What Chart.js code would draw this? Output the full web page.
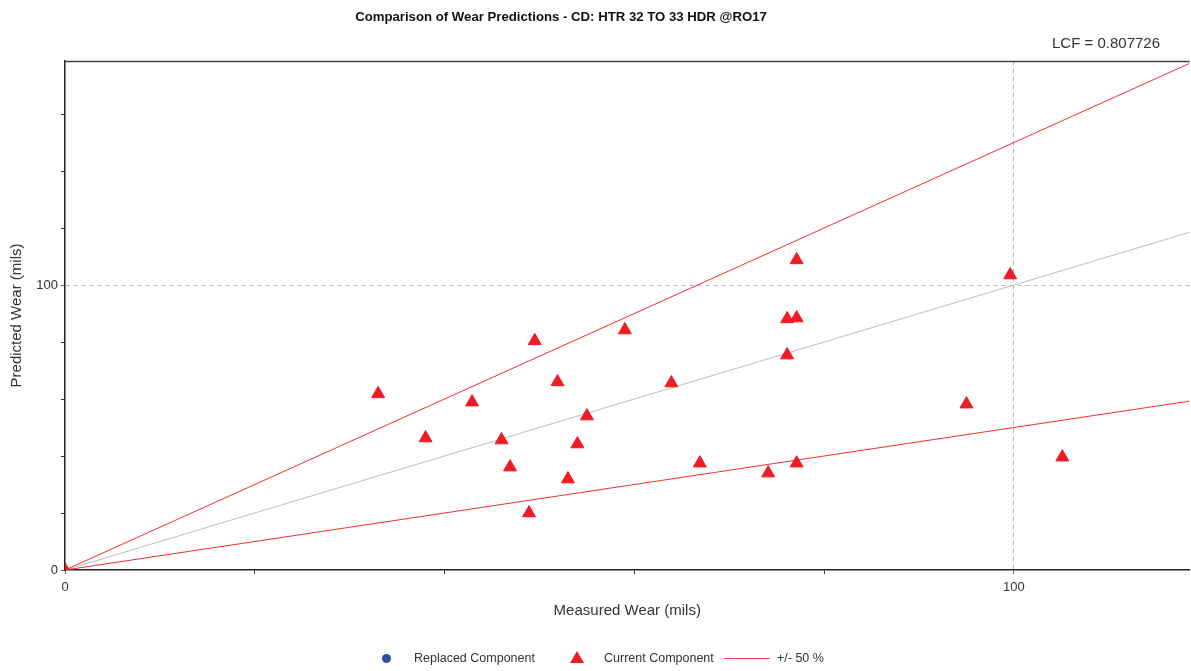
<!DOCTYPE html>
<html>
<head>
<meta charset="utf-8">
<script src="https://cdn.jsdelivr.net/npm/chart.js@4/dist/chart.umd.min.js"></script>
<style>
  html, body { margin: 0; padding: 0; background: #fff; overflow: hidden; }
  #wrap { position: relative; width: 1191px; height: 671px; overflow: hidden; font-family: "Liberation Sans", Arial, sans-serif; }
  canvas { position: absolute; left: 0; top: 0; }
  .txt { position: absolute; white-space: nowrap; color: #222; }
  #title { left: 561px; top: 9px; transform: translateX(-50%); font-weight: bold; font-size: 13.2px; color: #111; }
  #lcf { left: 1052px; top: 34px; font-size: 15px; color: #333; }
  .leg { position: absolute; top: 651px; font-size: 12.5px; color: #333; line-height: 14px; }
  .dot { position: absolute; width: 9px; height: 9px; border-radius: 50%; background: #2f4f9f; }
  .tri { position: absolute; width: 0; height: 0; border-left: 7px solid transparent; border-right: 7px solid transparent; border-bottom: 12px solid #ee1c24; }
  .ln { position: absolute; height: 1px; background: #f05050; }
</style>
</head>
<body>
<div id="wrap">
  <canvas id="c" width="1198" height="671"></canvas>
  <div class="txt" id="title">Comparison of Wear Predictions - CD: HTR 32 TO 33 HDR @RO17</div>
  <div class="txt" id="lcf">LCF = 0.807726</div>
  <div class="dot" style="left:382px; top:654px;"></div>
  <div class="leg" style="left:414px;">Replaced Component</div>
  <div class="tri" style="left:570px; top:651px;"></div>
  <div class="leg" style="left:604px;">Current Component</div>
  <div class="ln" style="left:724px; top:658px; width:46px;"></div>
  <div class="leg" style="left:777px;">+/- 50 %</div>
</div>
<script>
// ---- data ----
const measuredWear  = [0, 33.0, 38.0, 42.9, 46.0, 46.9, 48.9, 49.5, 51.9, 53.0, 54.0, 55.0, 59.0, 63.9, 66.9, 74.1, 76.1, 76.1, 77.1, 77.1, 77.1, 95.0, 99.6, 105.1];
const predictedWear = [0, 61.8, 46.3, 58.9, 45.6, 36.1, 20.0, 80.4, 66.0, 31.9, 44.2, 54.0, 84.2, 65.6, 37.5, 34.0, 75.4, 88.1, 88.4, 108.8, 37.5, 58.2, 103.5, 39.6];
const replacedX = [];
const replacedY = [];
const axisMaxX = 118.5;
const axisMaxY = 178.6;
const upperLineX = [0, 118.5];
const upperLineY = [0, 177.75];
const lowerLineX = [0, 118.5];
const lowerLineY = [0, 59.25];
const unityLineX = [0, 118.5];
const unityLineY = [0, 118.5];
const labelledTicks = [0, 100];

const pts = (xs, ys) => xs.map((x, i) => ({ x: x, y: ys[i] }));

const topBorder = {
  id: 'topBorder',
  afterDraw(chart) {
    const a = chart.chartArea, ctx = chart.ctx;
    ctx.save();
    ctx.strokeStyle = '#444';
    ctx.lineWidth = 1.5;
    ctx.beginPath();
    ctx.moveTo(a.left, a.top + 0.5);
    ctx.lineTo(a.right, a.top + 0.5);
    ctx.stroke();
    ctx.restore();
  }
};

const gridColor = (ctx) => (ctx.tick && ctx.tick.value === 100) ? '#b4b4b4' : 'rgba(0,0,0,0)';
const tickColor = (ctx) => (ctx.tick && (ctx.tick.value === 100 || ctx.tick.value === 0)) ? '#4060b0' : '#333';

new Chart(document.getElementById('c'), {
  type: 'scatter',
  data: {
    datasets: [
      { label: '1:1', type: 'line', data: pts(unityLineX, unityLineY), borderColor: '#bdbdbd', borderWidth: 1, pointRadius: 0, fill: false, order: 3 },
      { label: '+50 %', type: 'line', data: pts(upperLineX, upperLineY), borderColor: '#f03030', borderWidth: 1, pointRadius: 0, fill: false, order: 2 },
      { label: '-50 %', type: 'line', data: pts(lowerLineX, lowerLineY), borderColor: '#f03030', borderWidth: 1, pointRadius: 0, fill: false, order: 2 },
      { label: 'Replaced Component', data: pts(replacedX, replacedY), pointStyle: 'circle', pointRadius: 4, backgroundColor: '#2f4f9f', borderColor: '#2f4f9f', order: 1 },
      { label: 'Current Component', data: pts(measuredWear, predictedWear), pointStyle: 'triangle', pointRadius: 7.5, borderWidth: 1, backgroundColor: '#ee1c24', borderColor: '#ee1c24', order: 0 }
    ]
  },
  options: {
    responsive: false,
    animation: false,
    events: [],
    layout: { padding: { top: 61, right: 0, left: 0, bottom: 0 } },
    plugins: { legend: { display: false }, title: { display: false }, tooltip: { enabled: false } },
    scales: {
      x: {
        type: 'linear', min: 0, max: axisMaxX,
        afterFit(s) { s.height = 101; },
        ticks: { stepSize: 20, includeBounds: false, autoSkip: false, maxRotation: 0, padding: 6,
                 color: '#333', font: { family: 'Liberation Sans', size: 13 },
                 callback: (v) => labelledTicks.includes(v) ? String(v) : '' },
        grid: { color: gridColor, tickColor: tickColor, tickLength: 4, lineWidth: 1 },
        border: { color: '#222', width: 1.5, dash: [4, 4] },
        title: { display: true, text: 'Measured Wear (mils)', color: '#333', font: { family: 'Liberation Sans', size: 15 }, padding: { top: 0, bottom: 51 } }
      },
      y: {
        type: 'linear', min: 0, max: axisMaxY,
        afterFit(s) { s.width = 65; },
        ticks: { stepSize: 20, includeBounds: false, autoSkip: false, padding: 3,
                 color: '#333', font: { family: 'Liberation Sans', size: 13 },
                 callback: (v) => labelledTicks.includes(v) ? String(v) : '' },
        grid: { color: gridColor, tickColor: tickColor, tickLength: 4, lineWidth: 1 },
        border: { color: '#222', width: 1.5, dash: [4, 4] },
        title: { display: true, text: 'Predicted Wear (mils)', color: '#333', font: { family: 'Liberation Sans', size: 15 }, padding: { top: 8, bottom: 0 } }
      }
    }
  },
  plugins: [topBorder]
});
</script>
</body>
</html>
